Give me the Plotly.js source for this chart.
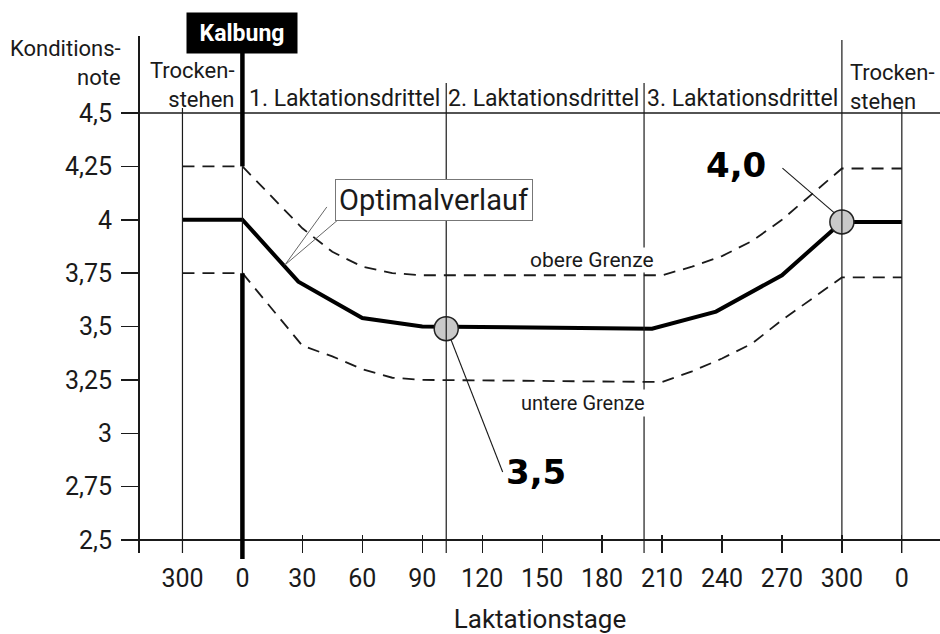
<!DOCTYPE html>
<html><head><meta charset="utf-8">
<script src="https://cdn.plot.ly/plotly-3.0.1.min.js"></script>
<style>html,body{margin:0;padding:0;background:#fff}</style>
</head><body><div id="chart" style="width:940px;height:634px"></div>
<script>
// ---- data ----
const tickDays = [-30,0,30,60,90,120,150,180,210,240,270,300,330];
const tickLabels = ['300','0','30','60','90','120','150','180','210','240','270','300','0'];
const scoreTicks = [2.5,2.75,3,3.25,3.5,3.75,4,4.25,4.5];
const scoreLabels = ['2,5','2,75','3','3,25','3,5','3,75','4','4,25','4,5'];
const optimalDays = [-30,0,28,60,90,205,237,270,300,330];
const optimalScore = [4.0,4.0,3.71,3.54,3.50,3.49,3.57,3.74,3.99,3.99];
const limitDays = [-30,0,30,45,60,75,90,210,225,240,255,270,285,300,330];
const upperLimit = [4.25,4.25,3.96,3.85,3.78,3.75,3.74,3.74,3.78,3.83,3.90,4.00,4.12,4.24,4.24];
const lowerLimit = [3.75,3.75,3.41,3.36,3.30,3.26,3.25,3.24,3.29,3.35,3.42,3.53,3.63,3.73,3.73];
const phaseBounds = [-30,0,102,201,300,330];
const phaseNames = ['Trocken-<br>stehen','1. Laktationsdrittel','2. Laktationsdrittel','3. Laktationsdrittel','Trocken-<br>stehen'];
const markDays = [102,300];
const markScore = [3.49,3.99];
const markLabels = ['3,5','4,0'];

// ---- layout helpers ----
const FONT = 'Roboto, Liberation Sans, sans-serif';
const INK = '#1a1a1a';
const yMin = 2.4391, yMax = 4.8607;
const P = v => (v - yMin) / (yMax - yMin);       // data -> paper (y)
const PX = px => (553 - px) / 517;                // pixel -> paper (y)

const traces = [
  {x: limitDays, y: upperLimit, mode: 'lines', line: {color: INK, width: 1.8, dash: '12px,8px'}, hoverinfo: 'skip'},
  {x: limitDays, y: lowerLimit, mode: 'lines', line: {color: INK, width: 1.8, dash: '12px,8px'}, hoverinfo: 'skip'},
  {x: optimalDays, y: optimalScore, mode: 'lines', line: {color: '#000', width: 4}, hoverinfo: 'skip'},
  {x: markDays, y: markScore, mode: 'markers', marker: {size: 24, color: '#c9c9c9', line: {color: '#222', width: 1.5}}, hoverinfo: 'skip'}
];

const thin = {color: INK, width: 1.2};
const shapes = [
  {type: 'line', xref: 'paper', yref: 'y', x0: -0.02125, x1: 1, y0: 4.5, y1: 4.5, line: {color: INK, width: 1.5}},
  {type: 'line', xref: 'paper', yref: 'y', x0: -0.02125, x1: 1, y0: 2.5, y1: 2.5, line: {color: INK, width: 2.2}},
  // phase boundaries
  {type: 'line', xref: 'x', yref: 'paper', x0: phaseBounds[0], x1: phaseBounds[0], y0: 0, y1: PX(108), line: thin},
  {type: 'line', xref: 'x', yref: 'paper', x0: phaseBounds[1], x1: phaseBounds[1], y0: P(4.25), y1: PX(52), line: {color: '#000', width: 4.5}},
  {type: 'line', xref: 'x', yref: 'paper', x0: phaseBounds[1], x1: phaseBounds[1], y0: P(3.75), y1: P(4.25), line: thin},
  {type: 'line', xref: 'x', yref: 'paper', x0: phaseBounds[1], x1: phaseBounds[1], y0: PX(559), y1: P(3.75), line: {color: '#000', width: 4.5}},
  {type: 'line', xref: 'x', yref: 'paper', x0: phaseBounds[2], x1: phaseBounds[2], y0: 0, y1: PX(83), line: thin},
  {type: 'line', xref: 'x', yref: 'paper', x0: phaseBounds[3], x1: phaseBounds[3], y0: 0, y1: PX(83), line: thin},
  {type: 'line', xref: 'x', yref: 'paper', x0: phaseBounds[4], x1: phaseBounds[4], y0: 0, y1: PX(40), line: thin},
  {type: 'line', xref: 'x', yref: 'paper', x0: phaseBounds[5], x1: phaseBounds[5], y0: 0, y1: PX(108), line: thin},
  // callout leaders
  {type: 'line', xref: 'x', yref: 'y', x0: 21.25, y0: 3.788, x1: 42.25, y1: 4.06, line: {color: '#666', width: 1}},
  {type: 'line', xref: 'x', yref: 'y', x0: 21.25, y0: 3.788, x1: 47.75, y1: 3.999, line: {color: '#666', width: 1}},
  {type: 'line', xref: 'x', yref: 'y', x0: 270.25, y0: 4.242, x1: 296.25, y1: 4.032, line: {color: INK, width: 1.1}},
  {type: 'line', xref: 'x', yref: 'y', x0: 130.25, y0: 2.8185, x1: 104.25, y1: 3.4415, line: {color: INK, width: 1.1}}
];

const f = (s, extra) => Object.assign({family: FONT, size: s, color: INK}, extra || {});
const annotations = [
  {xref: 'paper', yref: 'paper', x: -0.02125, y: PX(63), xanchor: 'right', yanchor: 'middle', align: 'right', showarrow: false,
   text: 'Konditions-<br>note', font: f(22)},
  {xref: 'x', yref: 'paper', x: phaseBounds[1] - 3, y: PX(85), xanchor: 'right', yanchor: 'middle', align: 'right', showarrow: false,
   text: phaseNames[0], font: f(22)},
  {xref: 'x', yref: 'paper', x: (phaseBounds[1] + phaseBounds[2]) / 2, y: PX(98), yanchor: 'middle', showarrow: false, text: phaseNames[1], font: f(23)},
  {xref: 'x', yref: 'paper', x: (phaseBounds[2] + phaseBounds[3]) / 2 - 1, y: PX(98), yanchor: 'middle', showarrow: false, text: phaseNames[2], font: f(23)},
  {xref: 'x', yref: 'paper', x: (phaseBounds[3] + phaseBounds[4]) / 2, y: PX(98), yanchor: 'middle', showarrow: false, text: phaseNames[3], font: f(23)},
  {xref: 'x', yref: 'paper', x: phaseBounds[4] + 3, y: PX(87), xanchor: 'left', yanchor: 'middle', align: 'left', showarrow: false,
   text: phaseNames[4], font: f(22)},
  {xref: 'x', yref: 'paper', x: phaseBounds[1], y: PX(33), yanchor: 'middle', showarrow: false, text: '<b>Kalbung</b>',
   font: f(23, {color: '#fff'}), bgcolor: '#000', borderpad: 4, width: 102, height: 32},
  {xref: 'x', yref: 'y', x: 95.75, y: 4.0925, showarrow: false, text: 'Optimalverlauf', font: f(29),
   bgcolor: '#fff', bordercolor: '#777', borderwidth: 1, borderpad: 3},
  {xref: 'x', yref: 'y', x: 174.75, y: 3.81, showarrow: false, text: 'obere Grenze', font: f(21), bgcolor: '#fff', borderpad: 0},
  {xref: 'x', yref: 'y', x: 170.25, y: 3.1417, showarrow: false, text: 'untere Grenze', font: f(20), bgcolor: '#fff', borderpad: 1},
  {xref: 'x', yref: 'y', x: 247.25, y: 4.256, showarrow: false, text: '<b>' + markLabels[1] + '</b>',
   font: {family: 'DejaVu Sans, sans-serif', size: 34, color: '#000'}},
  {xref: 'x', yref: 'y', x: 146.75, y: 2.8185, showarrow: false, text: '<b>' + markLabels[0] + '</b>',
   font: {family: 'DejaVu Sans, sans-serif', size: 34, color: '#000'}}
];

const layout = {
  width: 940, height: 634,
  margin: {l: 140, r: 0, t: 36, b: 81},
  paper_bgcolor: '#fff', plot_bgcolor: '#fff',
  showlegend: false,
  font: {family: FONT, color: INK},
  xaxis: {
    range: [-51.25, 349.1], tickmode: 'array', tickvals: tickDays, ticktext: tickLabels,
    ticks: 'inside', ticklen: 18, tickwidth: 1.3, tickcolor: INK,
    showline: false, showgrid: false, zeroline: false,
    tickfont: f(25), ticklabelstandoff: 8,
    title: {text: 'Laktationstage', font: f(26), standoff: 19}
  },
  yaxis: {
    range: [yMin, yMax], tickmode: 'array', tickvals: scoreTicks, ticktext: scoreLabels,
    ticks: 'outside', ticklen: 17, tickwidth: 1.5, tickcolor: INK,
    showline: true, linewidth: 2, linecolor: INK,
    showgrid: false, zeroline: false,
    tickfont: f(25), ticklabelstandoff: 4
  },
  shapes: shapes,
  annotations: annotations
};

Plotly.newPlot('chart', traces, layout, {displayModeBar: false, staticPlot: true});
</script></body></html>
